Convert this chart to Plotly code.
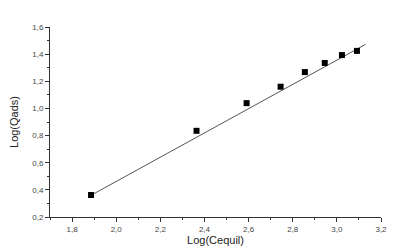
import plotly.graph_objects as go

log_cequil = [1.886, 2.364, 2.591, 2.745, 2.855, 2.945, 3.023, 3.091]
log_qads = [0.362, 0.835, 1.039, 1.160, 1.268, 1.335, 1.393, 1.424]

fit_x = [1.886, 3.13]
fit_y = [0.360, 1.472]

x_ticks = [1.8, 2.0, 2.2, 2.4, 2.6, 2.8, 3.0, 3.2]
y_ticks = [0.2, 0.4, 0.6, 0.8, 1.0, 1.2, 1.4, 1.6]

fig = go.Figure()
fig.add_trace(go.Scatter(x=fit_x, y=fit_y, mode="lines",
                         line=dict(color="#555555", width=1), showlegend=False))
fig.add_trace(go.Scatter(x=log_cequil, y=log_qads, mode="markers",
                         marker=dict(symbol="square", size=6, color="black"),
                         showlegend=False))

axis_common = dict(showgrid=False, zeroline=False, showline=True, linecolor="#333333",
                   linewidth=1, ticks="outside", ticklen=4, tickwidth=1, tickcolor="#333333",
                   tickfont=dict(family="Liberation Sans, Arial", size=8, color="#444444"),
                   tickformat=".1f")
fig.update_xaxes(range=[1.7, 3.2], tickvals=x_ticks, automargin=True,
                 minor=dict(dtick=0.1, ticks="outside", ticklen=2, tickcolor="#333333"),
                 title=dict(text="Log(Cequil)", standoff=2,
                            font=dict(family="Liberation Sans, Arial", size=11, color="#222222")),
                 **axis_common)
fig.update_yaxes(range=[0.2, 1.6], tickvals=y_ticks, automargin=False,
                 minor=dict(dtick=0.1, ticks="outside", ticklen=2, tickcolor="#333333"),
                 title=dict(text="Log(Qads)", standoff=13,
                            font=dict(family="Liberation Sans, Arial", size=11, color="#222222")),
                 **axis_common)
fig.update_layout(width=414, height=247, margin=dict(l=42, r=41, t=19, b=34),
                  plot_bgcolor="white", paper_bgcolor="white", separators=", ")
fig.write_html("out.html")
